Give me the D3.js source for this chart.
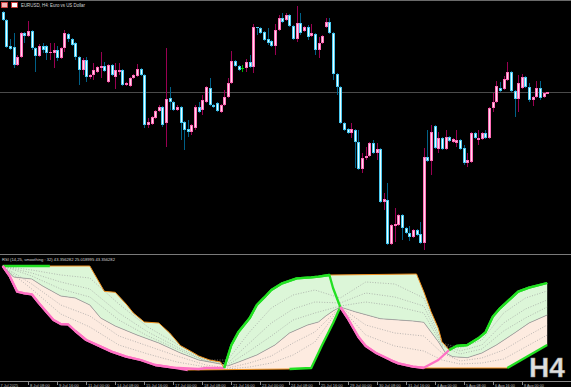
<!DOCTYPE html>
<html>
<head>
<meta charset="utf-8">
<script src="https://cdn.jsdelivr.net/npm/d3@7"></script>
<style>
    body{margin:0;background:#000;overflow:hidden}
    svg{display:block}
    text{font-family:"Liberation Sans",Arial,sans-serif}
</style>
</head>
<body>
<svg id="chart"></svg>
<script>

// EURUSD H4 candles, bar 0 = 7 Jul 2025 04:00
var opens = [1.1836,1.1820,1.1768,1.1766,1.1730,1.1746,1.1794,1.1788,1.1798,1.1764,
    1.1748,1.1768,1.1768,1.1754,1.1754,1.1760,1.1744,1.1764,1.1792,1.1782,
    1.1774,1.1746,1.1720,1.1740,1.1706,1.1710,1.1716,1.1724,1.1728,1.1696,
    1.1730,1.1706,1.1716,1.1720,1.1690,1.1688,1.1704,1.1708,1.1722,1.1710,
    1.1610,1.1612,1.1624,1.1638,1.1646,1.1614,1.1664,1.1656,1.1640,1.1646,
    1.1616,1.1602,1.1596,1.1604,1.1646,1.1640,1.1656,1.1684,1.1650,1.1654,
    1.1636,1.1650,1.1666,1.1694,1.1738,1.1728,1.1724,1.1724,1.1736,1.1726,
    1.1806,1.1804,1.1796,1.1782,1.1778,1.1768,1.1800,1.1824,1.1820,1.1830,
    1.1808,1.1782,1.1814,1.1798,1.1806,1.1788,1.1792,1.1760,1.1774,1.1806,
    1.1816,1.1794,1.1712,1.1686,1.1614,1.1602,1.1594,1.1600,1.1576,1.1522,
    1.1544,1.1548,1.1574,1.1554,1.1562,1.1456,1.1460,1.1372,1.1408,1.1410,
    1.1430,1.1404,1.1394,1.1386,1.1400,1.1392,1.1374,1.1546,1.1538,1.1608,
    1.1562,1.1584,1.1562,1.1586,1.1576,1.1574,1.1580,1.1564,1.1534,1.1536,
    1.1594,1.1580,1.1582,1.1594,1.1584,1.1644,1.1656,1.1684,1.1682,1.1700,
    1.1716,1.1678,1.1662,1.1684,1.1706,1.1686,1.1660,1.1666,1.1684,1.1666,1.1672]
var highs = [1.1838,1.1822,1.1782,1.1794,1.1750,1.1796,1.1796,1.1818,1.1800,1.1766,
    1.1772,1.1774,1.1770,1.1774,1.1774,1.1768,1.1766,1.1800,1.1794,1.1784,
    1.1776,1.1748,1.1744,1.1746,1.1712,1.1734,1.1728,1.1756,1.1736,1.1732,
    1.1732,1.1734,1.1734,1.1722,1.1696,1.1706,1.1712,1.1732,1.1724,1.1712,
    1.1624,1.1628,1.1640,1.1650,1.1648,1.1764,1.1686,1.1658,1.1650,1.1648,
    1.1618,1.1620,1.1612,1.1650,1.1656,1.1670,1.1688,1.1704,1.1652,1.1656,
    1.1652,1.1680,1.1704,1.1758,1.1740,1.1730,1.1730,1.1742,1.1750,1.1812,
    1.1806,1.1806,1.1798,1.1804,1.1780,1.1812,1.1830,1.1834,1.1834,1.1832,
    1.1810,1.1848,1.1834,1.1808,1.1810,1.1812,1.1794,1.1786,1.1790,1.1824,
    1.1824,1.1796,1.1714,1.1688,1.1616,1.1604,1.1614,1.1602,1.1600,1.1554,
    1.1566,1.1576,1.1580,1.1574,1.1564,1.1474,1.1494,1.1412,1.1444,1.1432,
    1.1432,1.1406,1.1408,1.1402,1.1402,1.1416,1.1564,1.1600,1.1610,1.1610,
    1.1596,1.1586,1.1600,1.1588,1.1584,1.1600,1.1582,1.1570,1.1554,1.1596,
    1.1596,1.1600,1.1596,1.1600,1.1646,1.1674,1.1698,1.1696,1.1708,1.1736,
    1.1718,1.1680,1.1710,1.1712,1.1708,1.1694,1.1668,1.1698,1.1698,1.1676,1.1676]
var lows = [1.1818,1.1764,1.1760,1.1724,1.1728,1.1744,1.1774,1.1786,1.1760,1.1716,
    1.1746,1.1754,1.1740,1.1740,1.1724,1.1738,1.1742,1.1756,1.1776,1.1768,
    1.1740,1.1690,1.1710,1.1696,1.1702,1.1700,1.1714,1.1704,1.1716,1.1694,
    1.1708,1.1682,1.1710,1.1688,1.1688,1.1686,1.1702,1.1706,1.1708,1.1604,
    1.1604,1.1610,1.1622,1.1636,1.1606,1.1566,1.1640,1.1638,1.1638,1.1580,
    1.1560,1.1586,1.1590,1.1600,1.1634,1.1630,1.1654,1.1648,1.1644,1.1636,
    1.1634,1.1648,1.1664,1.1692,1.1726,1.1718,1.1716,1.1716,1.1724,1.1714,
    1.1790,1.1792,1.1778,1.1770,1.1766,1.1750,1.1798,1.1814,1.1818,1.1806,
    1.1780,1.1776,1.1790,1.1796,1.1780,1.1786,1.1750,1.1744,1.1772,1.1804,
    1.1792,1.1700,1.1670,1.1612,1.1598,1.1592,1.1584,1.1524,1.1520,1.1514,
    1.1540,1.1546,1.1552,1.1540,1.1454,1.1440,1.1370,1.1370,1.1376,1.1408,
    1.1380,1.1392,1.1378,1.1384,1.1388,1.1372,1.1360,1.1536,1.1510,1.1562,
    1.1554,1.1560,1.1560,1.1576,1.1574,1.1566,1.1560,1.1530,1.1526,1.1534,
    1.1582,1.1570,1.1580,1.1582,1.1582,1.1636,1.1654,1.1676,1.1680,1.1698,
    1.1676,1.1626,1.1636,1.1682,1.1684,1.1656,1.1648,1.1664,1.1660,1.1664,1.1672]
var closes = [1.1820,1.1766,1.1762,1.1730,1.1746,1.1794,1.1788,1.1798,1.1764,1.1748,
    1.1768,1.1760,1.1754,1.1756,1.1760,1.1744,1.1764,1.1794,1.1782,1.1770,
    1.1746,1.1720,1.1740,1.1706,1.1710,1.1720,1.1726,1.1728,1.1718,1.1730,
    1.1710,1.1720,1.1720,1.1690,1.1694,1.1704,1.1710,1.1722,1.1710,1.1610,
    1.1616,1.1626,1.1638,1.1646,1.1610,1.1662,1.1656,1.1640,1.1646,1.1614,
    1.1600,1.1596,1.1610,1.1646,1.1636,1.1660,1.1686,1.1650,1.1646,1.1638,
    1.1650,1.1666,1.1694,1.1738,1.1728,1.1720,1.1724,1.1736,1.1726,1.1806,
    1.1804,1.1794,1.1780,1.1774,1.1768,1.1800,1.1824,1.1816,1.1830,1.1808,
    1.1782,1.1814,1.1794,1.1806,1.1786,1.1794,1.1760,1.1774,1.1788,1.1816,
    1.1794,1.1712,1.1686,1.1614,1.1600,1.1594,1.1602,1.1576,1.1522,1.1544,
    1.1548,1.1574,1.1554,1.1562,1.1456,1.1462,1.1372,1.1410,1.1412,1.1430,
    1.1404,1.1394,1.1386,1.1400,1.1390,1.1374,1.1546,1.1538,1.1596,1.1564,
    1.1584,1.1562,1.1586,1.1578,1.1582,1.1580,1.1562,1.1534,1.1540,1.1594,
    1.1584,1.1584,1.1594,1.1584,1.1644,1.1656,1.1688,1.1678,1.1702,1.1716,
    1.1678,1.1662,1.1694,1.1706,1.1686,1.1660,1.1666,1.1684,1.1664,1.1674,1.1676]

var levelPrice = 1.1676

// time axis
var tickBars = [0,7,15,23,31,39,47,55,63,71,79,87,95,103,111,119,127,135,143]
var tickLabels = ["7 Jul 2025","8 Jul 08:00","9 Jul 16:00","11 Jul 00:00","14 Jul 08:00","15 Jul 16:00",
    "17 Jul 00:00","18 Jul 08:00","21 Jul 16:00","23 Jul 00:00","24 Jul 08:00","25 Jul 16:00",
    "29 Jul 00:00","30 Jul 08:00","31 Jul 16:00","4 Aug 00:00","5 Aug 08:00","6 Aug 16:00","8 Aug 00:00"]

// RSI window: [bar, value, style] (style carries on until changed)
var rsiUpper = [[0,48.5,"g"],[13,48.5,"o"],[24,48.5],[28,40.9],[31,40.6],[34,37.1],[36,34.4],[39,31.7],
    [43,31.4],[46,28.4],[49,24.6],[52,22.8],[54,21.5],[57,20.3],[60,19.7],[61,17.9,"g"],[63,24.8],
    [65,28.8],[68,32.8],[70,36.8],[72,39.0],[74,41.3],[77,43.3],[81,44.8],[85,45.1],[87,45.3],
    [90,45.8,"o"],[114,46.1],[116,40.8],[118,34.8],[120,29.8],[121,25.8],[123,23.3,"g"],[125,24.5],
    [128,24.8],[131,26.8],[133,28.6],[135,33.3],[137,35.8],[140,38.8],[142,40.8],[145,42.0],[150,43.4]]
var rsiLine = [[0,48.5,"p"],[2,45.3],[4,40.8],[6,40.3],[8,40.0],[10,37.3],[12,34.8],[14,32.3],[16,31.1],
    [18,31.0],[20,29.0],[23,26.3],[27,24.3],[30,22.8],[34,21.3],[38,20.3],[42,18.8],[47,18.0],[54,17.6],
    [56,17.9],[61,17.9,"g"],[63,24.8],[65,28.8],[68,32.8],[70,36.8],[72,39.0],[74,41.3],[77,43.3],
    [81,44.8],[85,45.1],[87,45.3],[90,45.8],[91,41.9],[93,36.2,"p"],[95,32.9],[98,27.2],[100,24.5],
    [103,22.3],[107,20.2],[109,19.3],[113,18.3],[116,18.0],[120,20.3],[123,23.3,"g"],[125,24.5],
    [128,24.8],[131,26.8],[133,28.6],[135,33.3],[137,35.8],[140,38.8],[142,40.8],[145,42.0],[150,43.4]]
var rsiLower = [[0,48.5,"p"],[2,45.3],[4,40.8],[6,40.3],[8,40.0],[10,37.3],[12,34.8],[14,32.3],[16,31.1],
    [18,31.0],[20,29.0],[23,26.3],[27,24.3],[30,22.8],[34,21.3],[38,20.3],[42,18.8],[47,18.0],
    [51,17.3,"o"],[79,17.6,"g"],[85,17.9],[88,24.8],[91,31.3],[93,36.2,"p"],[95,32.9],[98,27.2],
    [100,24.5],[103,22.3],[107,20.2],[109,19.3],[113,18.3],[116,17.9,"o"],[139,17.9,"g"],[150,24.8]]
var rsiMid = [[0,48.5],[3,45.2],[8,44.6],[11,42.5],[16,39.5],[20,38.9],[24,36.8],[27,32.9],[31,30.5],
    [37,27.8],[43,25.4],[49,22.4],[54,20.3],[60,19.1],[62,18.5],[65,19.7],[70,21.8],[75,24.8],[79,28.4],
    [84,30.8],[87,31.7],[89,33.5],[91,35.0],[93,36.2],[97,34.8],[104,32.7],[113,32.0],[116,31.6],
    [120,25.8],[122,22.4],[124,21.3],[128,21.0],[132,22.4],[136,24.8],[141,28.4],[145,31.4],[150,33.8]]

var dotBars = [0,8,16,24,32,40,48,56,62,68,74,80,86,93,100,108,116,121,126,132,138,144,150]
var dot1 = [48.5,47.3,45.8,44.9,37.1,30.2,25.1,20.3,20.3,28.7,35.9,39.8,41.3,38.9,43.7,43.1,38.9,25.4,23.9,26.3,34.4,38.9,41.0]
var dot2 = [48.5,46.4,43.7,41.6,34.4,28.7,24.2,20.0,19.4,25.4,31.4,35.6,37.7,37.4,40.4,39.2,36.5,25.1,23.0,24.8,31.4,35.6,38.3]
var dot3 = [48.5,45.5,41.6,39.2,32.3,27.5,23.6,19.9,18.8,23.0,27.5,32.3,34.4,36.5,37.7,36.5,34.4,24.6,22.1,23.6,29.0,32.9,36.2]
var dot4 = [48.5,43.1,36.8,33.5,27.5,24.5,21.5,18.8,17.9,19.4,21.5,25.4,28.7,36.2,30.8,28.4,27.5,22.4,20.0,20.9,23.3,27.2,30.8]
var dot5 = [48.5,41.6,34.1,30.2,24.8,22.1,19.7,18.2,17.6,18.2,19.4,21.8,25.7,36.2,27.8,24.5,23.0,20.3,19.1,19.4,20.6,24.2,27.8]

var rsiTitle = "RSI (14,25, smoothing : 32) 43.356282 25.018995 43.356282"

var dimensions = {width: 571, height: 387}

var svg = d3.select("#chart")
            .attr("width", dimensions.width)
            .attr("height", dimensions.height)

svg.append("rect").attr("width", dimensions.width).attr("height", dimensions.height).attr("fill", "#000")

var xScale = d3.scaleLinear().domain([0, 150]).range([2.7, 547.2])
var yPrice = d3.scaleLinear().domain([1.1860, 1.1360]).range([0, 250])
var yRsi = d3.scaleLinear().domain([17.3, 48.5]).range([370, 266])

// frame lines
svg.append("line").attr("x1", 0).attr("x2", dimensions.width).attr("y1", 0.5).attr("y2", 0.5)
   .attr("stroke", "#6a6a6a")
svg.append("line").attr("x1", 0).attr("x2", dimensions.width)
   .attr("y1", Math.round(yPrice(levelPrice)) + 0.5).attr("y2", Math.round(yPrice(levelPrice)) + 0.5)
   .attr("stroke", "#4a4a4a").attr("stroke-width", 1.2)
svg.append("line").attr("x1", 0).attr("x2", dimensions.width).attr("y1", 254.5).attr("y2", 254.5)
   .attr("stroke", "#7a7a7a")

// candles
var candles = opens.map(function(o, i){
    return {i: i, o: o, h: highs[i], l: lows[i], c: closes[i]}
})

function kind(d){ return d.c > d.o ? "up" : (d.c < d.o ? "down" : "flat") }
var wickColor = {up: "#9a0052", down: "#005f86", flat: "#00b000"}
var edgeColor = {up: "#ff6eb8", down: "#48c8f0", flat: "#00d000"}
var coreColor = {up: "#ffd8ec", down: "#eaffff", flat: "#00d000"}

var cg = svg.append("g")
cg.selectAll("line.wick").data(candles).enter().append("line")
  .attr("x1", d => Math.round(xScale(d.i)) + 0.5)
  .attr("x2", d => Math.round(xScale(d.i)) + 0.5)
  .attr("y1", d => yPrice(d.h))
  .attr("y2", d => yPrice(d.l))
  .attr("stroke", d => wickColor[kind(d)])

cg.selectAll("rect.body").data(candles).enter().append("rect")
  .attr("x", d => Math.round(xScale(d.i)) - 1)
  .attr("y", d => Math.round(yPrice(Math.max(d.o, d.c))))
  .attr("width", 3)
  .attr("height", d => Math.max(1, Math.round(yPrice(Math.min(d.o, d.c))) - Math.round(yPrice(Math.max(d.o, d.c)))))
  .attr("fill", d => edgeColor[kind(d)])

cg.selectAll("rect.core").data(candles.filter(d => Math.abs(yPrice(d.o) - yPrice(d.c)) > 2)).enter().append("rect")
  .attr("x", d => Math.round(xScale(d.i)))
  .attr("y", d => Math.round(yPrice(Math.max(d.o, d.c))) + 1)
  .attr("width", 1)
  .attr("height", d => Math.round(yPrice(Math.min(d.o, d.c))) - Math.round(yPrice(Math.max(d.o, d.c))) - 2)
  .attr("fill", d => coreColor[kind(d)])

// header
svg.append("rect").attr("x", 1.5).attr("y", 2.5).attr("width", 6).attr("height", 5)
   .attr("fill", "#f4b8b8").attr("stroke", "#e03a3a").attr("stroke-width", 0.8)
svg.append("rect").attr("x", 11.5).attr("y", 2.5).attr("width", 6).attr("height", 5)
   .attr("fill", "#ffffff").attr("stroke", "#d82828").attr("stroke-width", 0.8)
svg.append("text").attr("x", 21).attr("y", 7).attr("font-size", 4.6).attr("fill", "#d4d4d4")
   .attr("textLength", 64).attr("lengthAdjust", "spacingAndGlyphs")
   .text("EURUSD, H4:  Euro vs US Dollar")

// RSI window
var line = d3.line().x(d => xScale(d[0])).y(d => yRsi(d[1]))
function band(a, b){
    return line(a) + line(b.slice().reverse()).replace("M", "L") + "Z"
}
svg.append("path").attr("d", band(rsiUpper, rsiMid)).attr("fill", "#dcf6d8")
svg.append("path").attr("d", band(rsiMid, rsiLower)).attr("fill", "#fdebe0")

var dots = [dot1, dot2, dot3, dot4, dot5]
dots.forEach(function(arr){
    svg.append("path")
       .attr("d", line(arr.map((v, k) => [dotBars[k], v])))
       .attr("fill", "none").attr("stroke", "#9c9c9c").attr("stroke-width", 0.7)
       .attr("stroke-dasharray", "1,1.6")
})
svg.append("path").attr("d", line(rsiMid)).attr("fill", "none")
   .attr("stroke", "#a2a2a2").attr("stroke-width", 0.8)

var styles = {
    g: {stroke: "#22e022", width: 2.3},
    p: {stroke: "#ff70c4", width: 2.3},
    o: {stroke: "#f0901e", width: 1}
}
function segments(pts){
    var segs = [], cur = null
    pts.forEach(function(p){
        if(p[2] && (!cur || p[2] != cur.style)){
            if(cur) cur.pts.push(p)
            cur = {style: p[2], pts: [p]}
            segs.push(cur)
        } else {
            cur.pts.push(p)
        }
    })
    return segs
}
function drawStyled(pts){
    segments(pts).forEach(function(s){
        svg.append("path").attr("d", line(s.pts)).attr("fill", "none")
           .attr("stroke", styles[s.style].stroke)
           .attr("stroke-width", styles[s.style].width)
           .attr("stroke-linejoin", "round")
    })
}
drawStyled(rsiUpper)
drawStyled(rsiLower)
drawStyled(rsiLine)

svg.append("text").attr("x", 2).attr("y", 260.5).attr("font-size", 4.2).attr("fill", "#d4d4d4")
   .attr("textLength", 113).attr("lengthAdjust", "spacingAndGlyphs")
   .text(rsiTitle)

// time axis
svg.append("line").attr("x1", 0).attr("x2", dimensions.width).attr("y1", 381.5).attr("y2", 381.5)
   .attr("stroke", "#8a8a8a")
var ticks = svg.append("g")
tickBars.forEach(function(b, k){
    var x = k == 0 ? 0 : Math.round(xScale(b)) + 0.5
    if(k > 0){
        ticks.append("line").attr("x1", x).attr("x2", x).attr("y1", 381.5).attr("y2", 385)
             .attr("stroke", "#8a8a8a")
    }
    ticks.append("text").attr("x", k == 0 ? 0.5 : x + 1.5).attr("y", 387)
         .attr("font-size", 4.3).attr("fill", "#b8b8b8")
         .attr("textLength", k == 0 ? 17.5 : tickLabels[k].length * 1.8)
         .attr("lengthAdjust", "spacingAndGlyphs")
         .text(tickLabels[k])
})

svg.append("text").attr("x", 529).attr("y", 377)
   .attr("font-size", 28).attr("font-weight", "bold").attr("fill", "#dedede")
   .attr("stroke", "#9a9a9a").attr("stroke-width", 0.4)
   .text("H4")

</script>
</body>
</html>
